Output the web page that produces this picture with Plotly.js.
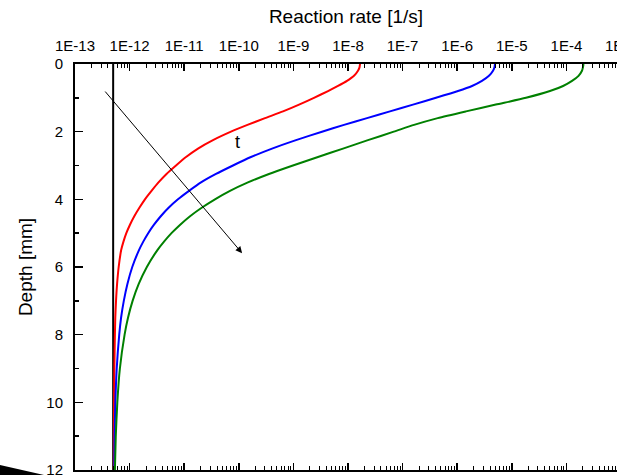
<!DOCTYPE html>
<html>
<head>
<meta charset="utf-8">
<script src="https://cdn.plot.ly/plotly-3.0.1.min.js"></script>
<style>html,body{margin:0;padding:0;background:#fff;}#chart{width:617px;height:475px;}</style>
</head>
<body>
<div id="chart"></div>
<script>
// Depth grid [mm]
const depth = [0, 0.1, 0.2, 0.35, 0.5, 0.65, 0.8, 1.0, 1.2, 1.4, 1.6, 1.8, 2.0, 2.25, 2.5, 2.75, 3.0, 3.25, 3.5, 3.75, 4.0, 4.25, 4.5, 4.75, 5.0, 5.25, 5.5, 6.0, 6.5, 7.0, 7.5, 8.0, 9.0, 10.0, 11.0, 12.0];
// Reaction rate [1/s] for three times (red -> blue -> green)
const rateRed = [1.66e-8, 1.626e-8, 1.524e-8, 1.288e-8, 9.59e-9, 6.56e-9, 4.31e-9, 2.38e-9, 1.27e-9, 6.46e-10, 3.02e-10, 1.44e-10, 7.19e-11, 3.37e-11, 1.79e-11, 1.08e-11, 7.08e-12, 4.74e-12, 3.38e-12, 2.52e-12, 1.91e-12, 1.51e-12, 1.219e-12, 1.016e-12, 8.71e-13, 7.72e-13, 7.01e-13, 6.31e-13, 5.90e-13, 5.64e-13, 5.47e-13, 5.38e-13, 5.26e-13, 5.19e-13, 5.16e-13, 5.15e-13];
const rateBlue = [4.92e-6, 4.82e-6, 4.53e-6, 3.82e-6, 2.84e-6, 1.87e-6, 1.035e-6, 4.09e-7, 1.55e-7, 5.87e-8, 2.23e-8, 8.45e-9, 3.34e-9, 1.117e-9, 4.06e-10, 1.67e-10, 7.83e-11, 3.82e-11, 2.03e-11, 1.225e-11, 7.69e-12, 5.18e-12, 3.72e-12, 2.80e-12, 2.19e-12, 1.78e-12, 1.486e-12, 1.119e-12, 9.12e-13, 7.83e-13, 6.98e-13, 6.46e-13, 5.81e-13, 5.48e-13, 5.31e-13, 5.24e-13];
const rateGreen = [2.06e-4, 2.01e-4, 1.93e-4, 1.67e-4, 1.27e-4, 8.7e-5, 5.0e-5, 1.82e-5, 5.1e-6, 1.45e-6, 4.4e-7, 1.62e-7, 6.9e-8, 2.32e-8, 8.1e-9, 2.82e-9, 9.8e-10, 3.57e-10, 1.47e-10, 6.9e-11, 3.66e-11, 2.09e-11, 1.28e-11, 8.45e-12, 5.85e-12, 4.27e-12, 3.23e-12, 2.07e-12, 1.47e-12, 1.135e-12, 9.35e-13, 8.1e-13, 6.64e-13, 5.96e-13, 5.58e-13, 5.38e-13];
// Baseline rate (vertical line)
const baseRate = [5e-13, 5e-13];
const baseDepth = [0, 12];
// Axis tick labels
const xTickVals = [1e-13, 1e-12, 1e-11, 1e-10, 1e-9, 1e-8, 1e-7, 1e-6, 1e-5, 1e-4];
const xTickText = ["1E-13", "1E-12", "1E-11", "1E-10", "1E-9", "1E-8", "1E-7", "1E-6", "1E-5", "1E-4"];
const yTickVals = [0, 2, 4, 6, 8, 10, 12];

const minorX = [];
for (let k = -13; k <= -4; k++) {
  for (let m = 2; m <= 9; m++) minorX.push(m * Math.pow(10, k));
}

const font = {family: 'Liberation Sans, Arial, sans-serif', color: '#000'};
const curveLine = (c) => ({color: c, width: 2, shape: 'spline', smoothing: 0.6, simplify: false});

const traces = [
  {x: baseRate, y: baseDepth, mode: 'lines', line: {color: '#000', width: 2}, hoverinfo: 'skip'},
  {x: rateRed, y: depth, mode: 'lines', line: curveLine('#ff0000')},
  {x: rateBlue, y: depth, mode: 'lines', line: curveLine('#0000ff')},
  {x: rateGreen, y: depth, mode: 'lines', line: curveLine('#008000')}
];

const L = 75, W = 542, T = 64, H = 406;
function px(x) { return (x - L) / W; }
function py(y) { return (470 - y) / H; }

const layout = {
  width: 617, height: 475,
  margin: {l: L, r: 0, t: T, b: 5, pad: 0},
  paper_bgcolor: '#fff', plot_bgcolor: '#fff',
  showlegend: false,
  font: Object.assign({size: 15}, font),
  xaxis: {
    type: 'log', side: 'top',
    range: [-13, -3.073],
    tickmode: 'array', tickvals: xTickVals, ticktext: xTickText,
    ticks: 'inside', ticklen: 7, tickwidth: 1.5, tickcolor: '#000',
    minor: {tickmode: 'array', tickvals: minorX, ticks: 'inside', ticklen: 4, tickwidth: 1, tickcolor: '#000', showgrid: false},
    showline: true, linecolor: '#000', linewidth: 2, mirror: 'ticks',
    showgrid: false, zeroline: false,
    tickfont: Object.assign({size: 15}, font),
    ticklabelstandoff: 5,
    ticklabeloverflow: 'allow',
    title: {text: 'Reaction rate [1/s]', font: Object.assign({size: 19}, font), standoff: 8},
    automargin: false
  },
  yaxis: {
    range: [12, 0],
    tickmode: 'array', tickvals: yTickVals,
    ticks: 'inside', ticklen: 8, tickwidth: 1.5, tickcolor: '#000',
    minor: {dtick: 1, ticks: 'inside', ticklen: 4, tickwidth: 1.5, tickcolor: '#000', showgrid: false},
    showline: true, linecolor: '#000', linewidth: 2, mirror: false,
    showgrid: false, zeroline: false,
    tickfont: Object.assign({size: 15}, font),
    ticklabelstandoff: 7,
    ticklabeloverflow: 'allow',
    title: {text: 'Depth [mm]', font: Object.assign({size: 19}, font), standoff: 9},
    automargin: false
  },
  annotations: [
    {xref: 'x', yref: 'y', axref: 'x', ayref: 'y',
     x: -9.94, y: 5.59, ax: -12.47, ay: 0.77,
     showarrow: true, arrowhead: 2, arrowsize: 1.3, arrowwidth: 1, arrowcolor: '#000', standoff: 0, text: ''},
    {xref: 'x', yref: 'y', x: -10.03, y: 2.31, text: 't', showarrow: false,
     font: Object.assign({size: 18}, font)},
    {xref: 'paper', yref: 'paper', x: px(621), y: py(46), text: '1E-3', showarrow: false,
     xanchor: 'center', yanchor: 'middle', font: Object.assign({size: 15}, font)}
  ],
  shapes: [
    {type: 'path', xref: 'paper', yref: 'paper',
     path: 'M ' + px(0) + ' ' + py(465) + ' L ' + px(44) + ' ' + py(475) + ' L ' + px(0) + ' ' + py(475) + ' Z',
     fillcolor: '#000', line: {width: 0}, layer: 'above'}
  ]
};

Plotly.newPlot('chart', traces, layout, {displayModeBar: false, staticPlot: true});
</script>
</body>
</html>
